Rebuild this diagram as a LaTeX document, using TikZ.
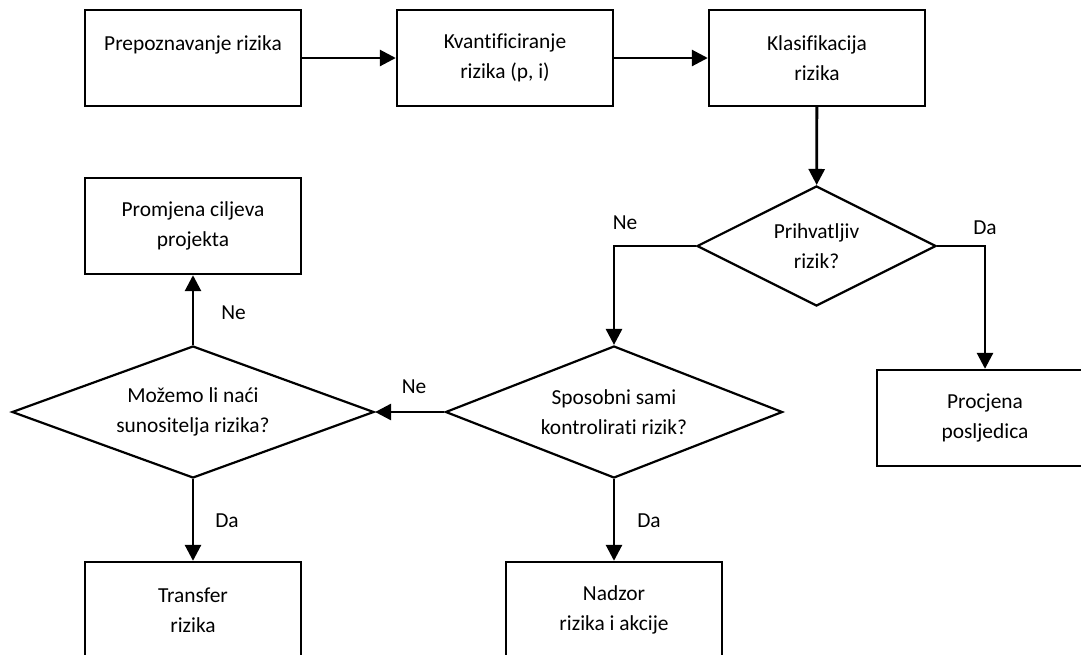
\documentclass[tikz,border=0pt]{standalone}
\usepackage{fontspec}
\setmainfont{Carlito}[Ligatures=CommonOff]
\usetikzlibrary{shapes.geometric,arrows.meta}
\begin{document}
\begin{tikzpicture}[x=1pt,y=-1pt,
  every node/.style={font=\fontsize{21.4}{29.5}\selectfont},
  box/.style={draw, line width=2.4pt, minimum width=216pt, minimum height=96pt, align=center, inner sep=0pt},
  dia/.style={draw, diamond, line width=2.2pt, align=center, inner sep=0pt},
  arr/.style={line width=2.8pt, -{Triangle[length=16pt,width=16pt]}},
  lbl/.style={inner sep=0pt}]
\fill[white] (0,0) rectangle (1081,654);
\useasboundingbox (0,0) rectangle (1081,654);

\node[box] (b1) at (193,58) {Prepoznavanje rizika\\~};
\node[box] (b2) at (505,58) {Kvantificiranje\\rizika (p, i)};
\node[box] (b3) at (817,58) {Klasifikacija\\rizika};
\node[dia, shape aspect=2, minimum width=239pt, minimum height=120pt] (d0) at (816.5,246) {Prihvatljiv\\rizik?};
\node[box] (b5) at (985,418) {Procjena\\posljedica};
\node[dia, shape aspect=2.55, minimum width=337pt, minimum height=132pt] (d2) at (614,412) {Sposobni sami\\kontrolirati rizik?};
\node[dia, shape aspect=2.74, minimum width=362pt, minimum height=132pt] (d1) at (193,412) {Možemo li naći\\sunositelja rizika?};
\node[box] (b4) at (193,226) {Promjena ciljeva\\projekta};
\node[box] (b6) at (193,610) {Transfer\\rizika};
\node[box] (b7) at (614,610) {Nadzor\\rizika i akcije};

\draw[arr] (b1) -- (b2);
\draw[arr] (b2) -- (b3);
\draw[arr] (b3) -- (d0);
\draw[arr] (d0.west) -| (d2.north);
\draw[arr] (d0.east) -| (b5.north);
\draw[arr] (d2.west) -- (d1.east);
\draw[arr] (d2.south) -- (b7.north);
\draw[arr] (d1.south) -- (b6.north);
\draw[arr] (d1.north) -- (b4.south);

\node[lbl] (ne0) at (625,223) {Ne};
\node[lbl] (da0) at (985,228) {Da};
\node[lbl] (ne2) at (414,387) {Ne};
\node[lbl] (da2) at (649,521) {Da};
\node[lbl] (da1) at (227,521) {Da};
\node[lbl] (ne1) at (233.5,313) {Ne};
\end{tikzpicture}
\end{document}
